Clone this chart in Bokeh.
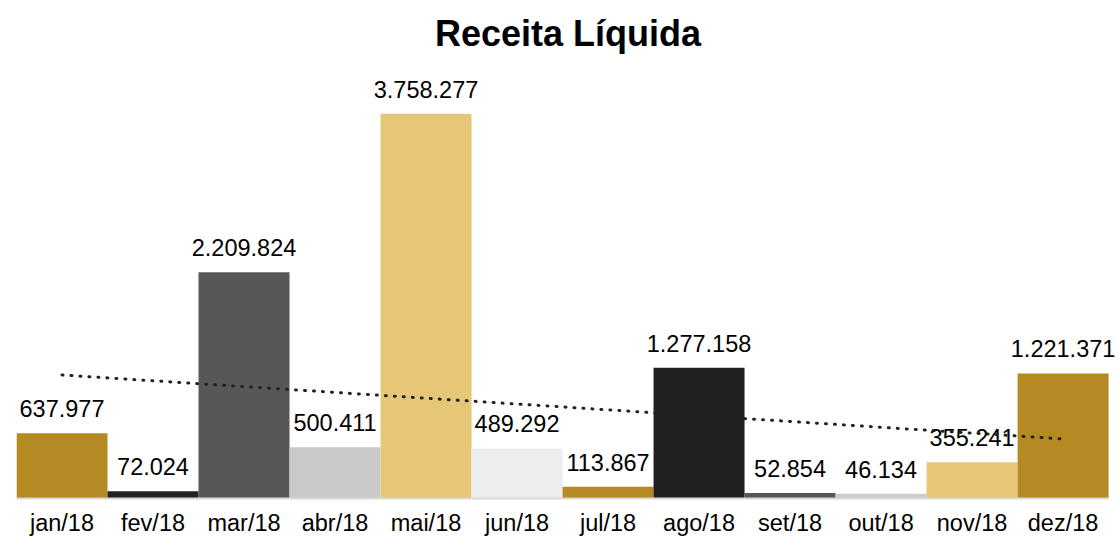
import numpy as np
from bokeh.plotting import figure
from bokeh.models import ColumnDataSource, LabelSet, Range1d, FixedTicker
from bokeh.core.properties import value
from bokeh.embed import file_html
from bokeh.resources import INLINE

months = ["jan/18", "fev/18", "mar/18", "abr/18", "mai/18", "jun/18",
          "jul/18", "ago/18", "set/18", "out/18", "nov/18", "dez/18"]
values = [637977, 72024, 2209824, 500411, 3758277, 489292,
          113867, 1277158, 52854, 46134, 355241, 1221371]
colors = ["#B58A22", "#222222", "#575757", "#C9C9C9", "#E6C677", "#EDEDED",
          "#B58A22", "#202020", "#575757", "#CCCCCC", "#E6C677", "#B58A22"]

labels = [f"{v:,}".replace(",", ".") for v in values]
xpos = list(range(len(months)))

# linear trend (least squares)
idx = np.arange(1, len(values) + 1)
slope, intercept = np.polyfit(idx, values, 1)
trend = (slope * idx + intercept).tolist()

src = ColumnDataSource(dict(x=xpos, v=values, c=colors, lab=labels, t=trend))

FONT = "Liberation Sans"

p = figure(width=1119, height=539, x_range=Range1d(-0.5, 11.62),
           y_range=Range1d(0, 4.25e6), output_backend="svg", toolbar_location=None,
           min_border_left=16, min_border_right=0, min_border_top=60, min_border_bottom=41)

p.title.text = "Receita Líquida"
p.title.align = "center"
p.title.text_font = FONT
p.title.text_font_size = "36px"
p.title.text_font_style = "bold"
p.title.text_color = "#000000"
p.title.standoff = 20

p.vbar(x="x", top="v", width=1.0, color="c", line_color=None, source=src)

ls = LabelSet(x="x", y="v", text="lab", source=src, y_offset=16,
              text_align="center", text_baseline="alphabetic",
              text_font=value(FONT), text_font_size=value("23.5px"), text_color="#000000")
p.add_layout(ls)

tl = p.line(x="x", y="t", source=src, line_color="#222222", line_width=3,
            line_dash="1 8", line_cap="round")
tl.level = "overlay"

p.yaxis.visible = False
p.xgrid.grid_line_color = None
p.ygrid.grid_line_color = None
p.outline_line_color = None
p.xaxis.ticker = FixedTicker(ticks=xpos)
p.xaxis.major_label_overrides = {i: m for i, m in enumerate(months)}
p.xaxis.bounds = (-0.5, len(months) - 0.5)
p.xaxis.axis_line_color = "#D9D9D9"
p.xaxis.axis_line_width = 2
p.xaxis.major_tick_line_color = None
p.xaxis.minor_tick_line_color = None
p.xaxis.major_tick_out = 0
p.xaxis.major_tick_in = 0
p.xaxis.minor_tick_out = 0
p.xaxis.minor_tick_in = 0
p.xaxis.major_label_text_font = FONT
p.xaxis.major_label_text_font_size = "23.5px"
p.xaxis.major_label_text_color = "#000000"
p.xaxis.major_label_standoff = 11

open("out.html", "w").write(file_html(p, INLINE))
